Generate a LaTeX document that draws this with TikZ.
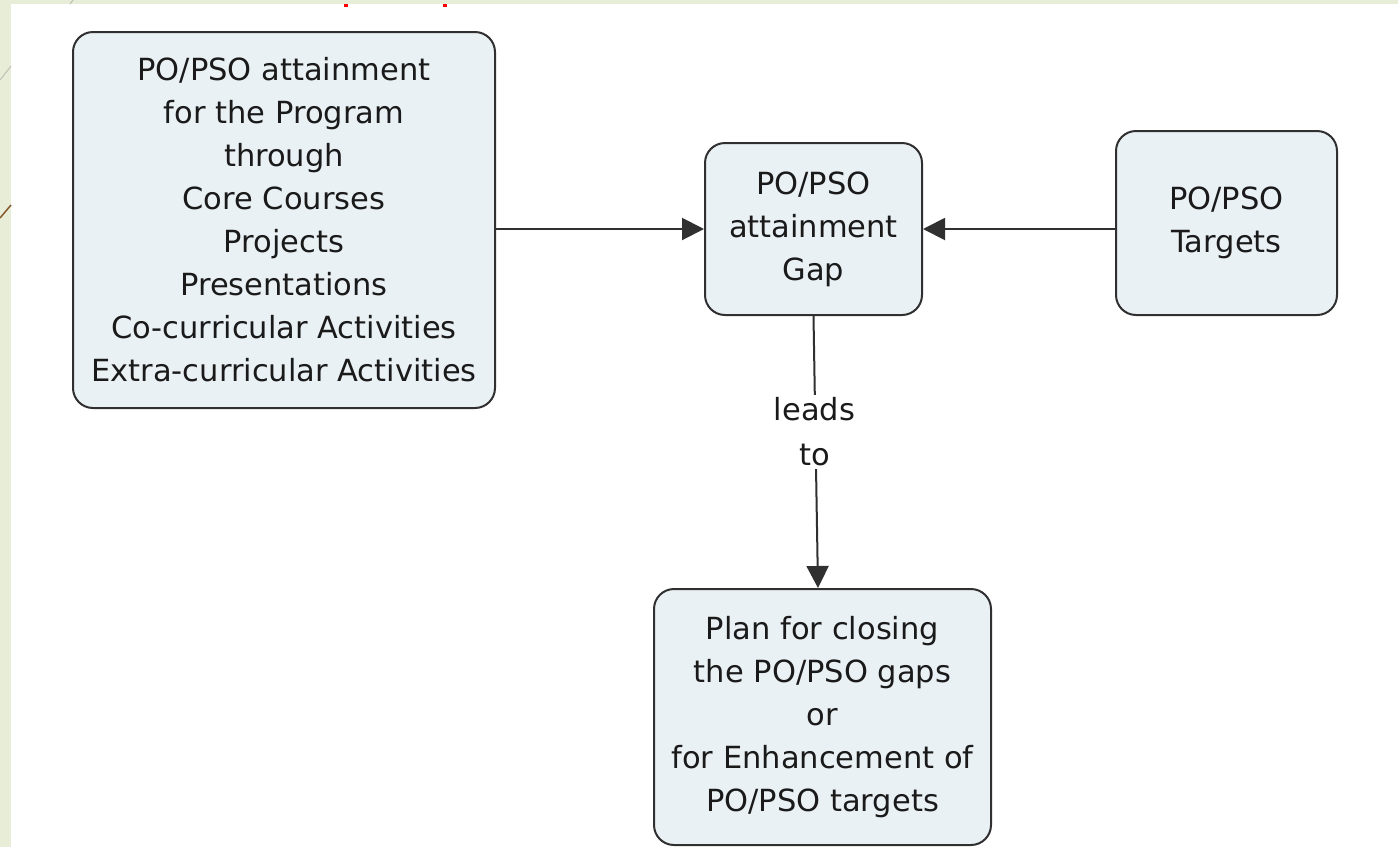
\documentclass[tikz,border=0pt]{standalone}
\usepackage{fontspec}
\setmainfont{DejaVu Sans}
\usetikzlibrary{arrows.meta}
\definecolor{boxfill}{HTML}{EAF1F4}
\definecolor{boxline}{HTML}{303030}
\definecolor{txt}{HTML}{1A1A1A}
\definecolor{slidegreen}{HTML}{E8EDD8}
\begin{document}
\begin{tikzpicture}[x=1pt,y=-1pt,
  cbox/.style={draw=boxline, line width=2pt, fill=boxfill, rounded corners=20pt,
    text=txt, align=center, font=\fontsize{30.5}{43}\selectfont, inner sep=0pt},
  link/.style={draw=boxline, line width=2pt, -{Triangle[length=22pt,width=22pt]}},
  lbl/.style={fill=white, text=txt, align=center, font=\fontsize{30.5}{45}\selectfont, inner sep=3pt}]
\useasboundingbox (0,0) rectangle (1398,847);
% slide background
\fill[slidegreen] (0,0) rectangle (1398,847);
\fill[white] (11,4) rectangle (1398,847);
\draw[line width=1pt, color=slidegreen!60!gray] (0,80) -- (11,66);
\draw[line width=1pt, color=slidegreen!60!gray] (70,4) -- (73,0);
\draw[line width=1.5pt, color=brown!70!black] (0,218) -- (11,205);
\fill[red] (344,4) rectangle (348,7);
\fill[red] (443,4) rectangle (447,7);
% nodes
\node[cbox, minimum width=422pt, minimum height=376pt] (src) at (284,220)
  {PO/PSO attainment\\for the Program\\through\\Core Courses\\Projects\\Presentations\\Co-curricular Activities\\Extra-curricular Activities};
\node[cbox, minimum width=217pt, minimum height=172pt] (gap) at (813.5,229)
  {PO/PSO\\attainment\\Gap};
\node[cbox, minimum width=221pt, minimum height=184pt] (tgt) at (1226.5,223)
  {PO/PSO\\Targets};
\node[cbox, minimum width=337pt, minimum height=256pt] (plan) at (822.5,717)
  {Plan for closing\\the PO/PSO gaps\\or\\for Enhancement of\\PO/PSO targets};
% connectors
\draw[link] (src.east |- gap.west) -- (gap.west);
\draw[link] (tgt.west |- gap.east) -- (gap.east);
\coordinate (pin) at ([xshift=-4.5pt]plan.north);
\draw[link] (gap.south) -- (pin);
\node[lbl] (leads) at (814.5,432) {leads\\to};
\end{tikzpicture}
\end{document}
